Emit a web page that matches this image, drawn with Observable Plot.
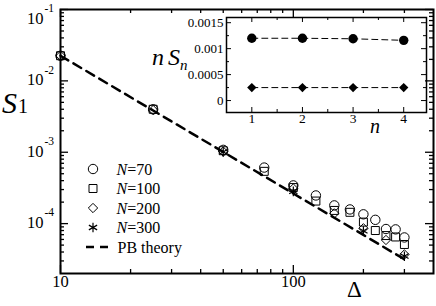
<!DOCTYPE html>
<html><head><meta charset="utf-8">
<script src="https://cdn.jsdelivr.net/npm/d3@7"></script>
<script src="https://cdn.jsdelivr.net/npm/@observablehq/plot@0.6"></script>
<style>
body{margin:0;background:#fff;}
#wrap{position:relative;width:436px;height:306px;}
#wrap svg{position:absolute;}
#wrap svg text{font-family:'Liberation Serif','Times New Roman',serif;}
</style></head><body><div id="wrap"></div>
<script>
// ---------- data ----------
const deltaN70  = [10, 25, 50, 75, 100, 125, 150, 175, 200, 225, 250, 275, 300];
const s1N70     = [0.0225, 0.0040, 0.00108, 0.00061, 0.000343, 0.000248, 0.00018, 0.000158, 0.000135, 0.000113, 0.000084, 0.000083, 0.000064];
const deltaN100 = [10, 25, 50, 75, 100, 125, 150, 175, 200, 225, 250, 275, 300];
const s1N100    = [0.0225, 0.0040, 0.00105, 0.00054, 0.00032, 0.000207, 0.000153, 0.000144, 0.000105, 0.00008, 0.000068, 0.000065, 0.000051];
const deltaN200 = [10, 25, 50, 100, 150, 200, 250, 300];
const s1N200    = [0.0225, 0.0039, 0.00102, 0.00031, 0.000139, 0.000086, 0.000059, 0.000037];
const deltaN300 = [50, 100, 200, 300];
const s1N300    = [0.00101, 0.000283, 0.000079, 0.000035];
const deltaPB   = [10, 25, 50, 100, 200, 300];
const s1PB      = [0.0225, 0.00384, 0.00101, 0.000264, 0.0000694, 0.0000316];

const insetN      = [1, 2, 3, 4];
const insetCircle = [0.0012, 0.0012, 0.00119, 0.00116];
const insetDiam   = [0.00025, 0.00025, 0.00025, 0.00025];

const xMajorTicks = [10, 100];
const xTickLabels = ["10", "100"];
const xMinorTicks = [20, 30, 40, 50, 60, 70, 80, 90, 200, 300];
const yMajorTicks = [1e-4, 1e-3, 1e-2, 1e-1];
const yTickExps   = ["-4", "-3", "-2", "-1"];
const yMinorTicks = [3e-5,4e-5,5e-5,6e-5,7e-5,8e-5,9e-5,
                     2e-4,3e-4,4e-4,5e-4,6e-4,7e-4,8e-4,9e-4,
                     2e-3,3e-3,4e-3,5e-3,6e-3,7e-3,8e-3,9e-3,
                     2e-2,3e-2,4e-2,5e-2,6e-2,7e-2,8e-2,9e-2];
const inXMajor = [1, 2, 3, 4];
const inXLabels = ["1", "2", "3", "4"];
const inXMinor = [1.5, 2.5, 3.5];
const inYMajor = [0, 0.0005, 0.001, 0.0015];
const inYLabels = ["0", "0.0005", "0.001", "0.0015"];
const inYMinor = [0.00025, 0.00075, 0.00125];

const legendLabels = ["=70", "=100", "=200", "=300"];

// ---------- helpers ----------
const SERIF = "Liberation Serif";
const toRows = (xs, ys) => xs.map((x, i) => ({x, y: ys[i]}));

// ---------- main chart ----------
const W = 436, H = 306, mL = 60, mR = 3, mT = 9, mB = 33;
const pw = W - mL - mR, ph = H - mT - mB;
const tk = {stroke: "black", strokeWidth: 1.3};
const lab = {fontFamily: SERIF, fill: "black"};

const main = Plot.plot({
  width: W, height: H,
  marginLeft: mL, marginRight: mR, marginTop: mT, marginBottom: mB,
  style: {background: "transparent", overflow: "visible"},
  x: {type: "log", domain: [10, 400], axis: null},
  y: {type: "log", domain: [2e-5, 0.1], axis: null},
  marks: [
    Plot.tickX(xMajorTicks, {x: d => d, insetTop: ph - 8, ...tk}),
    Plot.tickX(xMajorTicks, {x: d => d, insetBottom: ph - 8, ...tk}),
    Plot.tickX(xMinorTicks, {x: d => d, insetTop: ph - 4, ...tk}),
    Plot.tickX(xMinorTicks, {x: d => d, insetBottom: ph - 4, ...tk}),
    Plot.tickY(yMajorTicks, {y: d => d, insetRight: pw - 8, ...tk}),
    Plot.tickY(yMajorTicks, {y: d => d, insetLeft: pw - 8, ...tk}),
    Plot.tickY(yMinorTicks, {y: d => d, insetRight: pw - 4, ...tk}),
    Plot.tickY(yMinorTicks, {y: d => d, insetLeft: pw - 4, ...tk}),
    Plot.frame({stroke: "black", strokeWidth: 2}),
    Plot.text(xMajorTicks, {x: d => d, frameAnchor: "bottom", dy: 13, text: (d, i) => xTickLabels[i], fontSize: 16.5, ...lab}),
    Plot.text(yMajorTicks.slice(0, 3), {y: d => d, frameAnchor: "left", dx: -17, dy: -1, textAnchor: "end", text: () => "10", fontSize: 16.5, ...lab}),
    Plot.text(yMajorTicks.slice(0, 3), {y: d => d, frameAnchor: "left", dx: -16, dy: -11, textAnchor: "start", text: (d, i) => yTickExps[i], fontSize: 11.5, ...lab}),
    Plot.text(yMajorTicks.slice(3), {y: d => d, frameAnchor: "left", dx: -17, dy: 9, textAnchor: "end", text: () => "10", fontSize: 16.5, ...lab}),
    Plot.text(yMajorTicks.slice(3), {y: d => d, frameAnchor: "left", dx: -16, dy: -1, textAnchor: "start", text: () => yTickExps[3], fontSize: 11.5, ...lab}),
    Plot.line(toRows(deltaPB, s1PB), {x: "x", y: "y", stroke: "black", strokeWidth: 2.5, strokeDasharray: "9,6"}),
    Plot.dot(toRows(deltaN70, s1N70), {x: "x", y: "y", symbol: "circle", r: 4.7, stroke: "black", fill: "none", strokeWidth: 1}),
    Plot.dot(toRows(deltaN100, s1N100), {x: "x", y: "y", symbol: "square", r: 4.5, stroke: "black", fill: "none", strokeWidth: 1}),
    Plot.dot(toRows(deltaN200, s1N200), {x: "x", y: "y", symbol: "diamond2", r: 4.2, stroke: "black", fill: "none", strokeWidth: 1}),
    Plot.dot(toRows(deltaN300, s1N300), {x: "x", y: "y", symbol: "asterisk", r: 4.5, stroke: "black", fill: "none", strokeWidth: 1.2})
  ]
});
main.style.left = "0px"; main.style.top = "0px";
document.getElementById("wrap").appendChild(main);

// axis titles and legend on main svg
{
  const svg = d3.select(main);
  const g = svg.append("g").attr("font-family", SERIF).attr("fill", "black").attr("text-anchor", "start");
  const s = g.append("text").attr("x", 2).attr("y", 113).attr("font-size", 30);
  s.append("tspan").attr("font-style", "italic").text("S");
  s.append("tspan").attr("font-size", 20).attr("dx", 1).text("1");
  g.append("text").attr("x", 347).attr("y", 297).attr("font-size", 23).text("Δ");

  const rowsY = [169, 188.5, 208, 227.5];
  const syms = [d3.symbolCircle, d3.symbolSquare, d3.symbolDiamond2, d3.symbolAsterisk];
  const rs = [4.7, 4.5, 4.2, 4.5];
  rowsY.forEach((yy, i) => {
    g.append("path").attr("transform", `translate(93,${yy})`)
      .attr("d", d3.symbol(syms[i], Math.PI * rs[i] * rs[i])())
      .attr("fill", "none").attr("stroke", "black").attr("stroke-width", i === 3 ? 1.2 : 1);
    const t = g.append("text").attr("x", 116.5).attr("y", yy + 5.5).attr("font-size", 16);
    t.append("tspan").attr("font-style", "italic").text("N");
    t.append("tspan").text(legendLabels[i]);
  });
  g.append("line").attr("x1", 86).attr("x2", 108).attr("y1", 247).attr("y2", 247)
    .attr("stroke", "black").attr("stroke-width", 2.5).attr("stroke-dasharray", "8,6");
  g.append("text").attr("x", 117.5).attr("y", 252.5).attr("font-size", 16).text("PB theory");
}

// ---------- inset ----------
const IX = 140, IY = 0, IW = 296, IH = 140;
const imL = 86, imT = 17, imR = 10, imB = 28;
const ipw = IW - imL - imR, iph = IH - imT - imB;
const itk = {stroke: "black", strokeWidth: 1};
const inset = Plot.plot({
  width: IW, height: IH,
  marginLeft: imL, marginRight: imR, marginTop: imT, marginBottom: imB,
  style: {background: "transparent", overflow: "visible"},
  x: {domain: [0.5, 4.45], axis: null},
  y: {domain: [-0.00023, 0.0016], axis: null},
  marks: [
    Plot.tickX(inXMajor, {x: d => d, insetTop: iph - 5, ...itk}),
    Plot.tickX(inXMajor, {x: d => d, insetBottom: iph - 5, ...itk}),
    Plot.tickX(inXMinor, {x: d => d, insetTop: iph - 3, ...itk}),
    Plot.tickX(inXMinor, {x: d => d, insetBottom: iph - 3, ...itk}),
    Plot.tickY(inYMajor, {y: d => d, insetRight: ipw - 5, ...itk}),
    Plot.tickY(inYMajor, {y: d => d, insetLeft: ipw - 5, ...itk}),
    Plot.tickY(inYMinor, {y: d => d, insetRight: ipw - 3, ...itk}),
    Plot.tickY(inYMinor, {y: d => d, insetLeft: ipw - 3, ...itk}),
    Plot.frame({stroke: "black", strokeWidth: 1.5}),
    Plot.text(inXMajor, {x: d => d, frameAnchor: "bottom", dy: 10, text: (d, i) => inXLabels[i], fontSize: 13.5, ...lab}),
    Plot.text(inYMajor, {y: d => d, frameAnchor: "left", dx: -3, textAnchor: "end", text: (d, i) => inYLabels[i], fontSize: 13, ...lab}),
    Plot.line(toRows(insetN, insetCircle), {x: "x", y: "y", stroke: "black", strokeWidth: 1, strokeDasharray: "6,4"}),
    Plot.line(toRows(insetN, insetDiam), {x: "x", y: "y", stroke: "black", strokeWidth: 1, strokeDasharray: "6,4"}),
    Plot.dot(toRows(insetN, insetCircle), {x: "x", y: "y", symbol: "circle", r: 4.7, fill: "black"}),
    Plot.dot(toRows(insetN, insetDiam), {x: "x", y: "y", symbol: "diamond2", r: 4.2, fill: "black"})
  ]
});
inset.style.left = IX + "px"; inset.style.top = IY + "px";
document.getElementById("wrap").appendChild(inset);
{
  const g = d3.select(inset).append("g").attr("font-family", SERIF).attr("fill", "black").attr("text-anchor", "start");
  const t = g.append("text").attr("x", 152 - IX).attr("y", 65 - IY).attr("font-size", 24).attr("font-style", "italic");
  t.append("tspan").text("n");
  t.append("tspan").attr("dx", 4).text("S");
  t.append("tspan").attr("font-size", 15).attr("dy", 5).text("n");
  g.append("text").attr("x", 370 - IX).attr("y", 133 - IY).attr("font-size", 20).attr("font-style", "italic").text("n");
}
</script>
</body></html>
